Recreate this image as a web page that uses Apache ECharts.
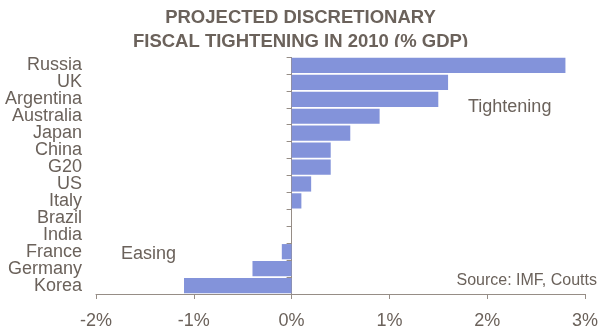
<!DOCTYPE html>
<html>
<head>
<meta charset="utf-8">
<script src="https://cdn.jsdelivr.net/npm/echarts@6/dist/echarts.min.js"></script>
<style>
  html, body { margin: 0; padding: 0; background: #fff; }
  #main { width: 601px; height: 331px; }
</style>
</head>
<body>
<div id="main"></div>
<script>
// countries, top to bottom as in the chart
var countries = ['Russia', 'UK', 'Argentina', 'Australia', 'Japan', 'China', 'G20',
  'US', 'Italy', 'Brazil', 'India', 'France', 'Germany', 'Korea'];
// projected discretionary fiscal tightening in 2010, % of GDP
var tightening = [2.8, 1.6, 1.5, 0.9, 0.6, 0.4, 0.4, 0.2, 0.1, 0, 0, -0.1, -0.4, -1.1];
var xTicks = [-2, -1, 0, 1, 2, 3];

var textColor = '#6b625b';
var lineColor = '#968d86';
var font = "'Liberation Sans', Arial, sans-serif";

var myChart = echarts.init(document.getElementById('main'));

var option = {
  animation: false,
  title: {
    text: 'PROJECTED DISCRETIONARY\nFISCAL TIGHTENING IN 2010 (% GDP)',
    left: 'center',
    top: 1,
    textStyle: {
      color: textColor,
      fontFamily: font,
      fontWeight: 'bold',
      fontSize: 18.5,
      lineHeight: 24
    }
  },
  grid: { left: 96, right: 13, top: 57, bottom: 37, containLabel: false },
  xAxis: {
    type: 'value',
    min: xTicks[0],
    max: xTicks[xTicks.length - 1],
    interval: 1,
    axisLine: { show: true, lineStyle: { color: lineColor } },
    axisTick: { show: true, length: 5, lineStyle: { color: lineColor } },
    splitLine: { show: false },
    axisLabel: {
      color: textColor,
      fontFamily: font,
      fontSize: 18,
      margin: 18,
      formatter: '{value}%'
    }
  },
  yAxis: [
    {
      // labels only, at the left edge
      type: 'category',
      data: countries,
      inverse: true,
      position: 'left',
      axisLine: { show: false, onZero: false },
      axisTick: { show: false },
      axisLabel: {
        interval: 0,
        color: textColor,
        fontFamily: font,
        fontSize: 18,
        lineHeight: 17,
        margin: 14
      }
    },
    {
      // zero line with ticks
      type: 'category',
      data: countries,
      inverse: true,
      position: 'left',
      axisLine: { show: true, onZero: true, lineStyle: { color: lineColor } },
      axisTick: { show: true, interval: 0, length: 5, lineStyle: { color: lineColor } },
      axisLabel: { show: false }
    }
  ],
  series: [{
    type: 'bar',
    data: tightening,
    yAxisIndex: 0,
    barCategoryGap: '10%',
    itemStyle: { color: '#8393da' },
    z: 1
  }],
  graphic: [
    {
      // the title is cut off by the plot box in the original
      type: 'rect',
      left: 0, top: 47, z: 100,
      shape: { width: 601, height: 10 },
      style: { fill: '#fff' }
    },
    {
      type: 'text', left: 468, top: 98, z: 100,
      style: { text: 'Tightening', fill: textColor, font: '18px ' + font }
    },
    {
      type: 'text', left: 121, top: 245, z: 100,
      style: { text: 'Easing', fill: textColor, font: '18px ' + font }
    },
    {
      type: 'text', right: 4, top: 273, z: 100,
      style: { text: 'Source: IMF, Coutts', fill: textColor, font: '16px ' + font }
    }
  ]
};

myChart.setOption(option);
</script>
</body>
</html>
